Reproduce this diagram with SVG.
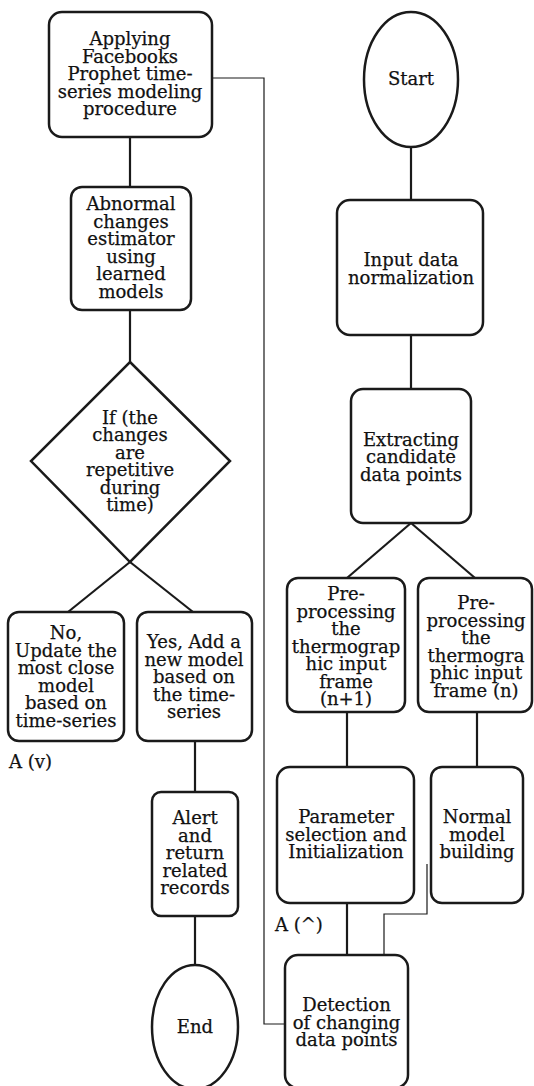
<svg xmlns="http://www.w3.org/2000/svg" width="534" height="1086" viewBox="0 0 534 1086">
<style>
.box{fill:#fff;stroke:#1a1a1a;stroke-width:2.5}
.t{font-family:"DejaVu Serif","Liberation Serif",serif;font-size:18px;fill:#111;stroke:#111;stroke-width:0.25;text-anchor:middle}
.tl{font-family:"DejaVu Serif","Liberation Serif",serif;font-size:18px;fill:#111;stroke:#111;stroke-width:0.25}
.c{fill:none;stroke:#1a1a1a;stroke-width:2.2}
.thin{fill:none;stroke:#1a1a1a;stroke-width:1.2}
</style>
<rect width="534" height="1086" fill="#fff"/>
<g id="connectors">
<line class="c" x1="130" y1="137" x2="130" y2="187"/>
<line class="c" x1="130" y1="310" x2="130" y2="362"/>
<line class="c" x1="130" y1="562" x2="68" y2="612"/>
<line class="c" x1="130" y1="562" x2="193" y2="612"/>
<line class="c" x1="195" y1="741" x2="195" y2="792"/>
<line class="c" x1="195" y1="916" x2="195" y2="965"/>
<line class="c" x1="411" y1="147" x2="411" y2="200"/>
<line class="c" x1="411" y1="335" x2="411" y2="389"/>
<line class="c" x1="411" y1="523" x2="347" y2="578"/>
<line class="c" x1="411" y1="523" x2="475" y2="578"/>
<line class="c" x1="347" y1="712" x2="347" y2="767"/>
<line class="c" x1="477" y1="712" x2="477" y2="767"/>
<line class="c" x1="347" y1="903" x2="347" y2="955"/>
<polyline class="thin" points="384,955 384,914 427,914 427,864"/>
<polyline class="thin" points="205,78 264,78 264,1024 297,1024"/>
<line x1="14" y1="675" x2="31" y2="675" stroke="#1a1a1a" stroke-width="1" stroke-dasharray="2 2"/>
<line x1="278" y1="835" x2="281" y2="835" stroke="#1a1a1a" stroke-width="1.2"/>
</g>
<g id="n-prophet">
<rect class="box" x="49" y="12" width="163" height="125" rx="13"/>
<text class="t" x="130" y="45">Applying</text>
<text class="t" x="130" y="62.5">Facebooks</text>
<text class="t" x="130" y="80">Prophet time-</text>
<text class="t" x="130" y="97.5">series modeling</text>
<text class="t" x="130" y="115">procedure</text>
</g>
<g id="n-abnormal">
<rect class="box" x="71" y="187" width="120" height="123" rx="11"/>
<text class="t" x="131" y="210">Abnormal</text>
<text class="t" x="131" y="227.5">changes</text>
<text class="t" x="131" y="245">estimator</text>
<text class="t" x="131" y="262.5">using</text>
<text class="t" x="131" y="280">learned</text>
<text class="t" x="131" y="297.5">models</text>
</g>
<g id="n-decision">
<polygon class="box" points="130,362 230,461 130,562 31,461"/>
<text class="t" x="130" y="423.5">If (the</text>
<text class="t" x="130" y="441">changes</text>
<text class="t" x="130" y="458.5">are</text>
<text class="t" x="130" y="476">repetitive</text>
<text class="t" x="130" y="493.5">during</text>
<text class="t" x="130" y="511">time)</text>
</g>
<g id="n-no">
<rect class="box" x="8" y="612" width="116" height="129" rx="11"/>
<text class="t" x="66" y="639">No,</text>
<text class="t" x="66" y="656.5">Update the</text>
<text class="t" x="66" y="674">most close</text>
<text class="t" x="66" y="691.5">model</text>
<text class="t" x="66" y="709">based on</text>
<text class="t" x="66" y="726.5">time-series</text>
</g>
<g id="n-yes">
<rect class="box" x="137" y="612" width="115" height="129" rx="11"/>
<text class="t" x="194" y="648">Yes, Add a</text>
<text class="t" x="194" y="665.5">new model</text>
<text class="t" x="194" y="683">based on</text>
<text class="t" x="194" y="700.5">the time-</text>
<text class="t" x="194" y="718">series</text>
</g>
<g id="lbl-av">
<text class="tl" x="9" y="768">A (v)</text>
</g>
<g id="n-alert">
<rect class="box" x="152" y="792" width="86" height="124" rx="9"/>
<text class="t" x="195" y="824">Alert</text>
<text class="t" x="195" y="841.5">and</text>
<text class="t" x="195" y="859">return</text>
<text class="t" x="195" y="876.5">related</text>
<text class="t" x="195" y="894">records</text>
</g>
<g id="n-end">
<ellipse class="box" cx="195" cy="1027" rx="43" ry="62"/>
<text class="t" x="195" y="1033">End</text>
</g>
<g id="n-start">
<ellipse class="box" cx="411" cy="79.5" rx="47" ry="67.5"/>
<text class="t" x="411" y="85">Start</text>
</g>
<g id="n-input">
<rect class="box" x="337" y="200" width="146" height="135" rx="13"/>
<text class="t" x="411" y="266">Input data</text>
<text class="t" x="411" y="283.5">normalization</text>
</g>
<g id="n-extract">
<rect class="box" x="351" y="389" width="120" height="134" rx="12"/>
<text class="t" x="411" y="445.5">Extracting</text>
<text class="t" x="411" y="463">candidate</text>
<text class="t" x="411" y="480.5">data points</text>
</g>
<g id="n-pre1">
<rect class="box" x="287" y="578" width="118" height="134" rx="11"/>
<text class="t" x="346" y="600">Pre-</text>
<text class="t" x="346" y="617.5">processing</text>
<text class="t" x="346" y="635">the</text>
<text class="t" x="346" y="652.5">thermograp</text>
<text class="t" x="346" y="670">hic input</text>
<text class="t" x="346" y="687.5">frame</text>
<text class="t" x="346" y="705">(n+1)</text>
</g>
<g id="n-pre2">
<rect class="box" x="418" y="578" width="114" height="134" rx="11"/>
<text class="t" x="476" y="609">Pre-</text>
<text class="t" x="476" y="626.5">processing</text>
<text class="t" x="476" y="644">the</text>
<text class="t" x="476" y="661.5">thermogra</text>
<text class="t" x="476" y="679">phic input</text>
<text class="t" x="476" y="696.5">frame (n)</text>
</g>
<g id="n-param">
<rect class="box" x="277" y="767" width="137" height="136" rx="13"/>
<text class="t" x="346" y="823">Parameter</text>
<text class="t" x="346" y="840.5">selection and</text>
<text class="t" x="346" y="858">Initialization</text>
</g>
<g id="n-normal">
<rect class="box" x="431" y="767" width="92" height="136" rx="11"/>
<text class="t" x="477" y="823">Normal</text>
<text class="t" x="477" y="840.5">model</text>
<text class="t" x="477" y="858">building</text>
</g>
<g id="lbl-a-up">
<text class="tl" x="275" y="931">A (^)</text>
</g>
<g id="n-detect">
<rect class="box" x="285" y="955" width="123" height="133" rx="13"/>
<text class="t" x="346.5" y="1011">Detection</text>
<text class="t" x="346.5" y="1028.5">of changing</text>
<text class="t" x="346.5" y="1046">data points</text>
</g>
</svg>
